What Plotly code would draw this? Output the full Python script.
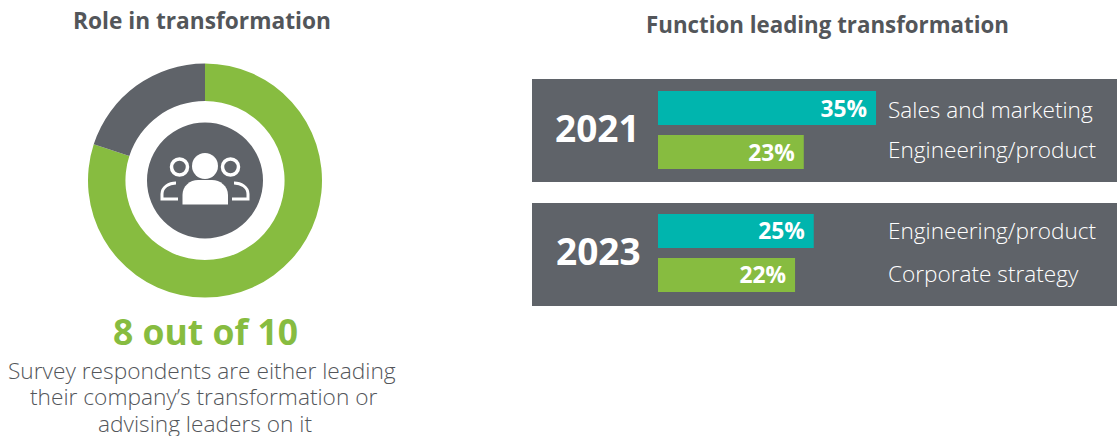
import plotly.graph_objects as go

W, H = 1117, 436
GREEN = "#87BC40"
TEAL = "#00B5AE"
GRAY = "#5F6369"
TEXT = "#53565A"

# Data
donut_labels = ["Leading or advising", "Other"]
donut_values = [80, 20]
years = ["2021", "2023"]
functions_2021 = ["Sales and marketing", "Engineering/product"]
values_2021 = [35, 23.4]
labels_2021 = ["35%", "23%"]
functions_2023 = ["Engineering/product", "Corporate strategy"]
values_2023 = [25, 22]
labels_2023 = ["25%", "22%"]
bar_colors = [TEAL, GREEN]
title_left = "Role in transformation"
title_right = "Function leading transformation"
headline = "8 out of 10"
body_text = ["Survey respondents are either leading", "their company’s transformation or", "advising leaders on it"]


def px(x):
    return x / W


def py(y):
    return 1 - y / H


def path(*parts):
    out = []
    for p in parts:
        if isinstance(p, str):
            out.append(p)
        else:
            out.append(f"{px(p[0]):.5f},{py(p[1]):.5f}")
    return " ".join(out)


fig = go.Figure()

fig.add_trace(go.Pie(
    labels=donut_labels, values=donut_values, hole=0.68, sort=False,
    direction="clockwise", rotation=0, textinfo="none", showlegend=False,
    marker=dict(colors=[GREEN, GRAY], line=dict(width=0)),
    domain=dict(x=[px(88), px(322)], y=[py(298), py(63)]),
))

for ax, fns, vals, labs in [("y", functions_2021, values_2021, labels_2021),
                            ("y2", functions_2023, values_2023, labels_2023)]:
    fig.add_trace(go.Bar(
        x=vals, y=fns, yaxis=ax, xaxis="x", orientation="h", width=0.773,
        marker=dict(color=bar_colors, line=dict(width=0)),
        text=labs, texttemplate="%{text}\u00a0", textposition="inside", insidetextanchor="end",
        textangle=0, constraintext="none",
        textfont=dict(family="Open Sans", size=22.8, color="white", weight=700),
        cliponaxis=False, showlegend=False,
    ))

shapes = [
    dict(type="rect", xref="paper", yref="paper", x0=px(532), x1=px(1117), y0=py(182), y1=py(79),
         fillcolor=GRAY, line_width=0, layer="below"),
    dict(type="rect", xref="paper", yref="paper", x0=px(532), x1=px(1117), y0=py(306), y1=py(203),
         fillcolor=GRAY, line_width=0, layer="below"),
    dict(type="circle", xref="paper", yref="paper", x0=px(147), x1=px(263), y0=py(238.5), y1=py(122.5),
         fillcolor=GRAY, line_width=0),
    # icon: central person
    dict(type="circle", xref="paper", yref="paper", x0=px(192), x1=px(218), y0=py(179), y1=py(153),
         fillcolor="white", line_width=0),
    dict(type="path", xref="paper", yref="paper", fillcolor="white", line_width=0,
         path=path("M", (182.5, 204.5), "L", (182.5, 195), "C", (182.5, 186), (190, 180), (198, 180),
                   "L", (212, 180), "C", (220, 180), (228, 186), (228, 195), "L", (228, 204.5), "Z")),
    # icon: side heads
    dict(type="circle", xref="paper", yref="paper", x0=px(171.5), x1=px(187.5), y0=py(175), y1=py(159),
         line=dict(color="white", width=3.5)),
    dict(type="circle", xref="paper", yref="paper", x0=px(222.5), x1=px(238.5), y0=py(175), y1=py(159),
         line=dict(color="white", width=3.5)),
    # icon: side shoulders
    dict(type="path", xref="paper", yref="paper", line=dict(color="white", width=3),
         path=path("M", (178, 199), "L", (162, 199), "L", (162, 194), "C", (162, 187), (169, 183), (176, 183))),
    dict(type="path", xref="paper", yref="paper", line=dict(color="white", width=3),
         path=path("M", (232, 199), "L", (248, 199), "L", (248, 194), "C", (248, 187), (241, 183), (234, 183))),
]

ann = []


def label(text, x, y, size, color, weight=400, anchor="center"):
    ann.append(dict(text=text, xref="paper", yref="paper", x=px(x), y=py(y), showarrow=False,
                    xanchor=anchor, yanchor="middle",
                    font=dict(family="Open Sans", size=size, color=color, weight=weight)))


label(title_left, 201.5, 21, 22.7, TEXT, 700)
label(title_right, 827.5, 24, 22.3, TEXT, 700)
label(headline, 205, 330.5, 35.5, GREEN, 700)
for line, x, y in zip(body_text, [202, 204, 205], [370, 396.5, 423]):
    label(line, x, y, 22.7, TEXT, 300)
label(years[0], 597, 127.5, 37, "white", 700)
label(years[1], 598, 250.5, 37, "white", 700)

for fns, ys in [(functions_2021, [109.5, 149.5]), (functions_2023, [230.5, 273.5])]:
    for fn, y in zip(fns, ys):
        label(fn, 885.5, y, 22.6, "white", 300, anchor="left")

fig.update_layout(
    width=W, height=H, margin=dict(l=0, r=0, t=0, b=0),
    paper_bgcolor="white", plot_bgcolor="rgba(0,0,0,0)",
    xaxis=dict(domain=[px(658), 1], range=[0, 459 / 6.23], visible=False, fixedrange=True),
    yaxis=dict(domain=[py(182), py(79)], range=[1.68, -0.659], visible=False, type="category",
               categoryorder="array", categoryarray=functions_2021, fixedrange=True),
    yaxis2=dict(domain=[py(306), py(203)], range=[1.705, -0.636], visible=False, type="category",
                categoryorder="array", categoryarray=functions_2023, fixedrange=True),
    shapes=shapes, annotations=ann, barmode="overlay",
)

fig.write_html("out.html", config=dict(displayModeBar=False),
               post_script="document.body.style.margin='0';")
